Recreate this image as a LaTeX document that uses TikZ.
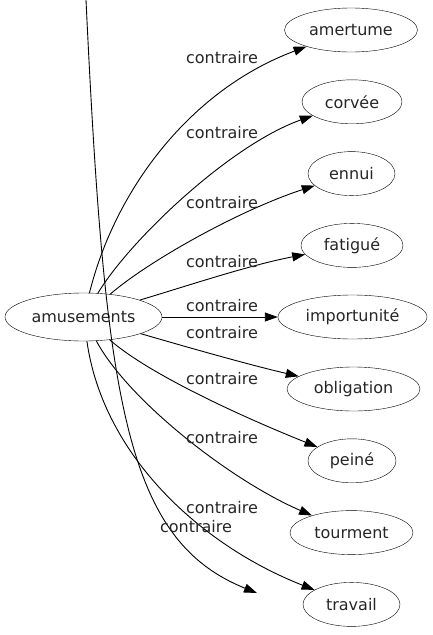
\documentclass[tikz,border=0pt]{standalone}
\usepackage{fontspec}
\setmainfont{DejaVu Sans}
\usetikzlibrary{arrows.meta,shapes.geometric}

\begin{document}
\begin{tikzpicture}[
    x=1pt, y=-1pt,
    mot/.style={draw, ellipse, inner sep=0pt, minimum height=44pt, font=\fontsize{16pt}{19pt}\selectfont, text=black!85},
    rel/.style={inner sep=0pt, font=\fontsize{16pt}{19pt}\selectfont, text=black!85},
    lien/.style={-{Triangle[length=13pt,width=9pt]}, line width=0.9pt}
]
\useasboundingbox (0,0) rectangle (433,635);

\node[mot, minimum width=157pt, minimum height=48pt] (amusements) at (83.5,317) {amusements};

\node[mot, minimum width=133pt] (amertume) at (351,30) {amertume};
\node[mot, minimum width=100pt] (corvee) at (352,101.8) {corvée};
\node[mot, minimum width=87pt] (ennui) at (351.5,173.6) {ennui};
\node[mot, minimum width=102pt] (fatigue) at (352,245.4) {fatigué};
\node[mot, minimum width=149pt] (importunite) at (352.5,317) {importunité};
\node[mot, minimum width=133pt] (obligation) at (353.5,389) {obligation};
\node[mot, minimum width=88pt] (peine) at (352,460.8) {peiné};
\node[mot, minimum width=123pt] (tourment) at (351.5,532.6) {tourment};
\node[mot, minimum width=97pt] (travail) at (351.5,604.4) {travail};

% edges
\draw[lien] (amusements) .. controls (115,190) and (190,90) .. (amertume);
\draw[lien] (amusements) .. controls (130,240) and (230,145) .. (corvee);
\draw[lien] (amusements) .. controls (150,260) and (240,210) .. (ennui);
\draw[lien] (amusements) .. controls (190,285) and (250,265) .. (fatigue);
\draw[lien] (amusements) -- (importunite);
\draw[lien] (amusements) .. controls (190,348) and (250,365) .. (obligation);
\draw[lien] (amusements) .. controls (150,375) and (245,418) .. (peine);
\draw[lien] (amusements) .. controls (128,400) and (230,480) .. (tourment);
\draw[lien] (amusements) .. controls (103,455) and (200,545) .. (travail);

\coordinate (haut) at (86,0);
\coordinate (bout) at (257,593);
\draw[lien] (haut) .. controls (105,400) and (125,540) .. (bout);

% labels
\node[rel] (c-amertume) at (222,58) {contraire};
\node[rel] (c-corvee) at (222,133) {contraire};
\node[rel] (c-ennui) at (222,203) {contraire};
\node[rel] (c-fatigue) at (222,262) {contraire};
\node[rel] (c-importunite) at (222,306) {contraire};
\node[rel] (c-obligation) at (222,333) {contraire};
\node[rel] (c-peine) at (222,379) {contraire};
\node[rel] (c-tourment) at (222,438) {contraire};
\node[rel] (c-travail) at (222,508) {contraire};
\node[rel] (c-haut) at (196,527) {contraire};
\end{tikzpicture}
\end{document}
